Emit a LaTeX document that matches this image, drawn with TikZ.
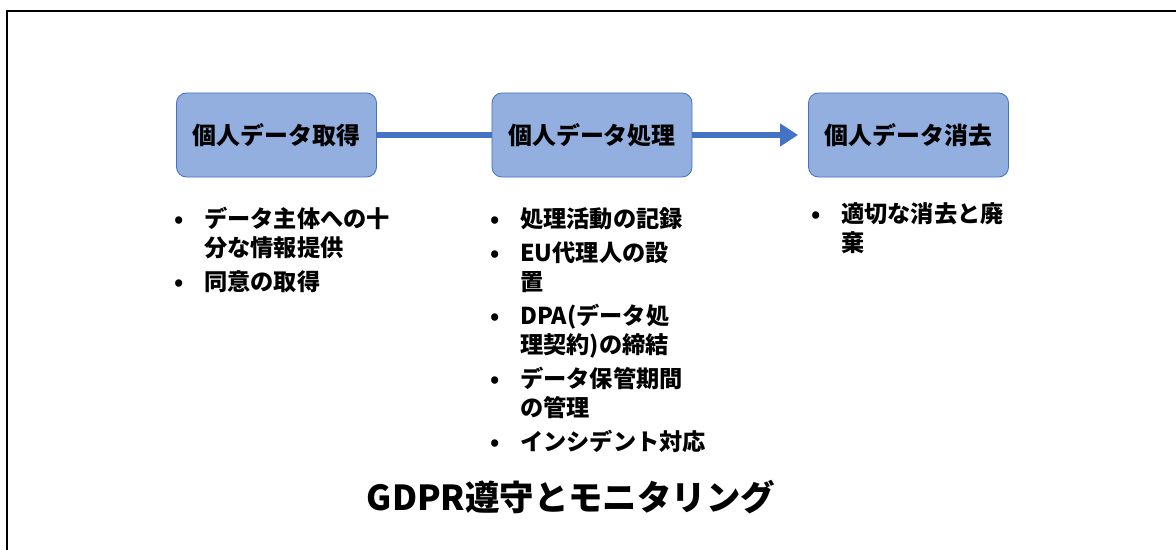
\documentclass[tikz,border=0pt]{standalone}
\usepackage{fontspec}
\usepackage{array}
\setmainfont{Noto Sans CJK JP}
\usetikzlibrary{arrows.meta}
\definecolor{boxfill}{HTML}{93AFDF}
\definecolor{boxline}{HTML}{4472C4}
% text cells that keep to the row strut
\newcolumntype{T}{>{\setbox0\hbox\bgroup}l<{\egroup\ht0=0pt \dp0=0pt \box0}}

\begin{document}
\begin{tikzpicture}[x=0.025cm,y=-0.025cm]
    \newcommand{\bul}{\smash{\textbullet}}
    \newcommand{\gap}{\\[3.5pt]}

    \tikzstyle{stage}=[
      draw=boxline,
      fill=boxfill,
      line width=0.6pt,
      rounded corners=0.25cm,
      minimum width=5cm,
      minimum height=2.1cm,
      font=\fontsize{17}{20}\selectfont\bfseries,
    ]
    \tikzstyle{edge}  = [line width=0.15cm,draw=boxline]
    \tikzstyle{dedge} = [edge,-{Triangle[length=0.45cm,width=0.55cm]}]
    \tikzstyle{duty}=[
      anchor=north west,
      inner sep=0pt,
      font=\fontsize{16.5}{20.6}\selectfont\bfseries,
    ]

    \useasboundingbox (0,0) rectangle (1176,550);
    \draw[line width=1.4pt] (1176,11) -| (7,550);

    {
      \node[stage] (acq) at (276.5,135) {個人データ取得};
      \node[stage] (proc) at (592,135) {個人データ処理};
      \node[stage] (del) at (908.5,135) {個人データ消去};
    }

    {
      \draw[edge] (acq)--(proc);
      \draw[dedge,shorten >=0.25cm] (proc)--(del);
    }

    {
      \node[duty] (acqlist) at (174,207) {\begin{tabular}{@{}p{0.75cm}@{}T@{}}
        \bul & データ主体への十\\
             & 分な情報提供\gap
        \bul & 同意の取得
      \end{tabular}};
      \node[duty] (proclist) at (490,207) {\begin{tabular}{@{}p{0.75cm}@{}T@{}}
        \bul & 処理活動の記録\gap
        \bul & EU代理人の設\\
             & 置\gap
        \bul & DPA(データ処\\
             & 理契約)の締結\gap
        \bul & データ保管期間\\
             & の管理\gap
        \bul & インシデント対応
      \end{tabular}};
      \node[duty] (dellist) at (811,202) {\begin{tabular}{@{}p{0.75cm}@{}T@{}}
        \bul & 適切な消去と廃\\
             & 棄
      \end{tabular}};
    }

    \node[font=\fontsize{24.5}{29}\selectfont\bfseries] (title) at (571,497) {GDPR遵守とモニタリング};
\end{tikzpicture}
\end{document}
